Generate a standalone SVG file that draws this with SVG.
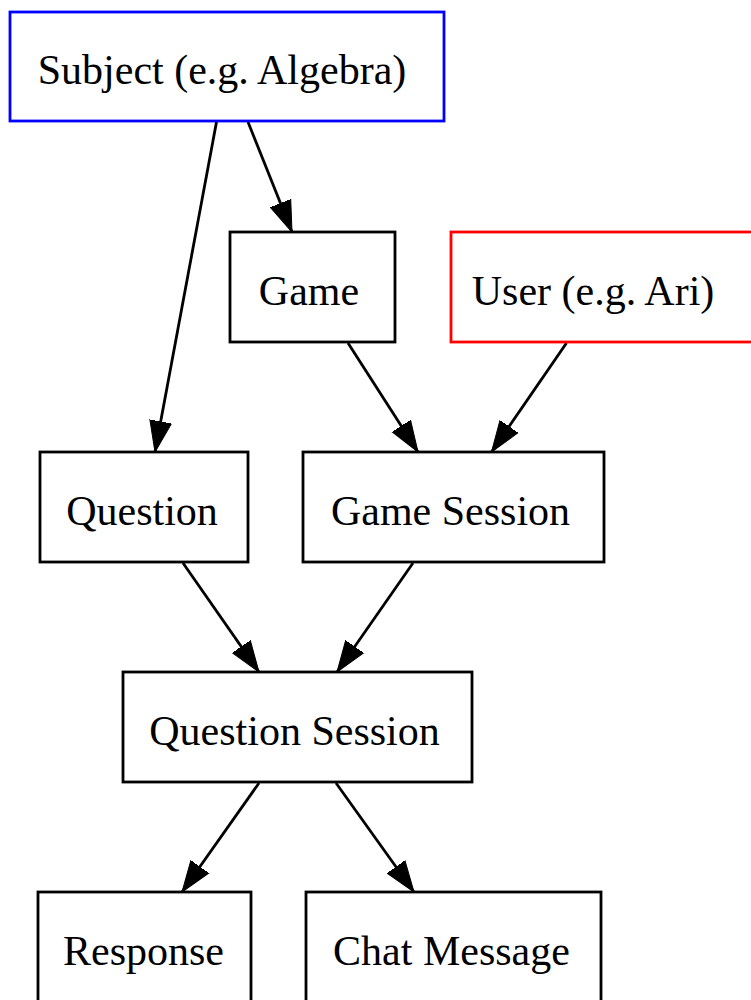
<svg xmlns="http://www.w3.org/2000/svg" width="751" height="1000" viewBox="0 0 751 1000">
<style>
.box{fill:#fff;stroke:#000;stroke-width:2.8}
.blue{stroke:#0000ff}
.red{stroke:#ff0000}
.lbl{font-family:"Liberation Serif","Times New Roman",serif;font-size:42px;fill:#000;text-anchor:middle}
.edge{stroke:#000;stroke-width:2.8;fill:none;marker-end:url(#ah)}
</style>
<defs>
<marker id="ah" markerUnits="userSpaceOnUse" markerWidth="34" markerHeight="24" viewBox="0 -12 34 24" refX="31" refY="0" orient="auto">
<path d="M0,-11 L31,0 L0,11 z" fill="#000" stroke="#000" stroke-width="1"/>
</marker>
</defs>
<rect width="751" height="1000" fill="#fff"/>
<g id="connectors">
<line class="edge" x1="216.5" y1="122" x2="155" y2="452"/>
<line class="edge" x1="248" y1="122" x2="292" y2="232"/>
<line class="edge" x1="348" y1="343" x2="418" y2="452"/>
<line class="edge" x1="566.5" y1="343" x2="491.5" y2="452"/>
<line class="edge" x1="183" y1="563" x2="259" y2="672"/>
<line class="edge" x1="413" y1="563" x2="337" y2="672"/>
<line class="edge" x1="259" y1="783" x2="182" y2="892"/>
<line class="edge" x1="336" y1="783" x2="414" y2="892"/>
</g>
<g id="subject">
<rect class="box blue" x="10" y="12" width="434" height="109"/>
<text class="lbl" x="222" y="84">Subject (e.g. Algebra)</text>
</g>
<g id="game">
<rect class="box" x="230" y="232" width="165" height="110"/>
<text class="lbl" x="309" y="305">Game</text>
</g>
<g id="user">
<rect class="box red" x="451" y="232" width="320" height="110"/>
<text class="lbl" x="593" y="305">User (e.g. Ari)</text>
</g>
<g id="question">
<rect class="box" x="40" y="452" width="208" height="110"/>
<text class="lbl" x="142" y="525">Question</text>
</g>
<g id="game_session">
<rect class="box" x="303" y="452" width="301" height="110"/>
<text class="lbl" x="450.5" y="525">Game Session</text>
</g>
<g id="question_session">
<rect class="box" x="123" y="672" width="349" height="110"/>
<text class="lbl" x="294.5" y="745">Question Session</text>
</g>
<g id="response">
<rect class="box" x="38" y="892" width="213" height="120"/>
<text class="lbl" x="143.5" y="965">Response</text>
</g>
<g id="chat_message">
<rect class="box" x="306" y="892" width="295" height="120"/>
<text class="lbl" x="451.5" y="965">Chat Message</text>
</g>
</svg>
